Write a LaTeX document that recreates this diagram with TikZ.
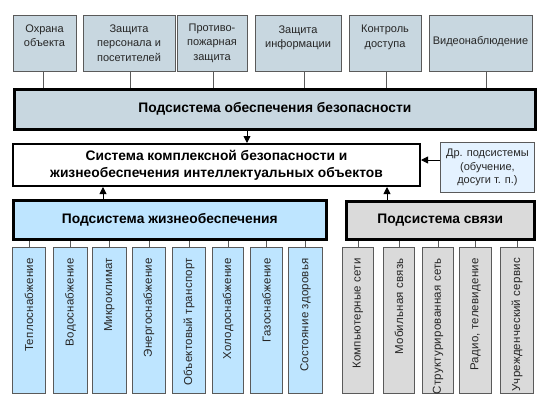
\documentclass[tikz,border=0pt]{standalone}
\usepackage{fontspec}
\setmainfont{Liberation Sans}
\usetikzlibrary{arrows.meta}
\definecolor{topfill}{HTML}{C8D7E0}
\definecolor{lifefill}{HTML}{BEE5FF}
\definecolor{commfill}{HTML}{DADADA}
\definecolor{otherfill}{HTML}{E4F2FF}
\definecolor{edgegray}{HTML}{5A5A5A}
\begin{document}
\begin{tikzpicture}[x=1pt,y=-1pt,
  smallbox/.style={draw=edgegray, line width=0.9pt, anchor=north west, inner sep=0pt},
  bigbar/.style={draw=black, line width=2.6pt, anchor=north west, inner sep=0pt, font=\fontsize{13.8}{17}\selectfont\bfseries, align=center},
  toptext/.style={font=\fontsize{11}{14.5}\selectfont, align=center, inner sep=0pt, text=black!85},
  vtext/.style={font=\fontsize{11.5}{13}\selectfont\addfontfeature{LetterSpace=2}, rotate=90, anchor=east, inner sep=0pt, text=black!85},
  conn/.style={draw=edgegray, line width=0.8pt},
  arr/.style={draw=black, line width=0.9pt, -{Triangle[length=7pt,width=7pt]}}
]
\useasboundingbox (0,0) rectangle (544,408);
% top boxes
\foreach \n/\xa/\xb/\yc/\t in {
  a1/13/76/35.5/{Охрана\\объекта},
  a2/83/175/43/{Защита\\персонала и\\посетителей},
  a3/177/247/43/{Противо-\\пожарная\\защита},
  a4/255/341/38/{Защита\\информации},
  a5/349/421/37.5/{Контроль\\доступа},
  a6/429/532/42/{Видеонаблюдение}}{
  \node[smallbox, fill=topfill, minimum width={\xb pt-\xa pt}, minimum height=56pt] (\n) at (\xa,15) {};
  \node[toptext] (\n t) at ({(\xa+\xb)/2},\yc) {\t};
}
% security bar
\node[bigbar, fill=topfill, minimum width=521pt, minimum height=40pt] (sec) at (13,88) {Подсистема обеспечения безопасности};
\foreach \n/\dx in {a1/-1.5,a2/1,a3/1,a4/6,a5/1,a6/5.5}{
  \draw[conn] ([xshift=\dx pt]\n.south) -- ([xshift=\dx pt]\n.south |- sec.north);
}
% main system box
\node[draw=black, line width=2pt, anchor=north west, inner sep=0pt, fill=white, minimum width=407pt, minimum height=42pt, font=\fontsize{13.8}{17}\selectfont\bfseries, align=center] (sys) at (12,143) {Система комплексной безопасности и\\жизнеобеспечения интеллектуальных объектов};
\node[draw=edgegray, line width=0.9pt, anchor=north west, inner sep=0pt, fill=otherfill, minimum width=94pt, minimum height=50pt, font=\fontsize{11}{13.5}\selectfont, align=center, text=black!85] (oth) at (440,142) {Др. подсистемы\\(обучение,\\досуги т. п.)};
% subsystems
\node[bigbar, fill=lifefill, minimum width=313pt, minimum height=39pt] (life) at (12,199) {Подсистема жизнеобеспечения};
\node[bigbar, fill=commfill, minimum width=188pt, minimum height=38pt] (comm) at (345,200) {Подсистема связи};
% arrows
\draw[arr] (sec.south -| 247,0) -- (sys.north -| 247,0);
\draw[arr] (oth.west |- 0,160) -- (sys.east |- 0,160);
\draw[arr] (life.north -| 103,0) -- (sys.south -| 103,0);
\draw[arr] (comm.north -| 387,0) -- (sys.south -| 387,0);
% bottom boxes: life
\foreach \n/\xa/\xb/\t in {
  L1/12/45/Теплоснабжение,
  L2/53/87/Водоснабжение,
  L3/92/126/Микроклимат,
  L4/132/165/Энергоснабжение,
  L5/172/205/Объектовый транспорт,
  L6/212/243/Холодоснабжение,
  L7/250/282/Газоснабжение,
  L8/288/322/Состояние здоровья}{
  \node[smallbox, fill=lifefill, minimum width={\xb pt-\xa pt}, minimum height=146pt] (\n) at (\xa,247) {};
  \node[vtext] (\n t) at ([yshift=-11pt]\n.north) {\t};
  \draw[conn] (\n.north) -- (\n.north |- life.south);
}
% bottom boxes: comm
\foreach \n/\xa/\xb/\t in {
  C1/342/373/Компьютерные сети,
  C2/383/414/Мобильная связь,
  C3/422/453/Структурированная сеть,
  C4/459/491/{Радио, телевидение},
  C5/500/533/Учрежденческий сервис}{
  \node[smallbox, fill=commfill, minimum width={\xb pt-\xa pt}, minimum height=146pt] (\n) at (\xa,247) {};
  \node[vtext] (\n t) at ([yshift=-11pt]\n.north) {\t};
  \draw[conn] (\n.north) -- (\n.north |- comm.south);
}
\end{tikzpicture}
\end{document}
